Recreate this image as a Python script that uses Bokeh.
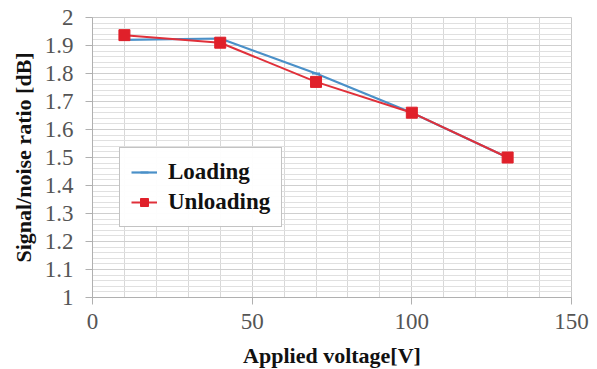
from bokeh.plotting import figure
from bokeh.models import Legend, LegendItem, FixedTicker, Range1d
from bokeh.embed import file_html
from bokeh.resources import INLINE

voltage = [10, 40, 70, 100, 130]
loading = [1.92, 1.925, 1.80, 1.66, 1.50]
unloading = [1.937, 1.91, 1.77, 1.66, 1.50]

x_ticks = [0, 50, 100, 150]
y_ticks = [1, 1.1, 1.2, 1.3, 1.4, 1.5, 1.6, 1.7, 1.8, 1.9, 2]
y_labels = {1: "1", 1.1: "1.1", 1.2: "1.2", 1.3: "1.3", 1.4: "1.4", 1.5: "1.5",
            1.6: "1.6", 1.7: "1.7", 1.8: "1.8", 1.9: "1.9", 2: "2"}

FONT = "Liberation Serif"

p = figure(width=589, height=361, output_backend="svg", toolbar_location=None,
           x_range=Range1d(0, 150), y_range=Range1d(1, 2),
           min_border_left=92, min_border_right=18, min_border_top=17, min_border_bottom=64)
p.frame_width = 479
p.frame_height = 280

p.xaxis.ticker = FixedTicker(ticks=x_ticks, minor_ticks=list(range(0, 151, 10)))
p.yaxis.ticker = FixedTicker(ticks=y_ticks, minor_ticks=[1 + i * 0.02 for i in range(51)])
p.yaxis.major_label_overrides = y_labels

for ax in (p.xaxis, p.yaxis):
    ax.major_label_text_font = FONT
    ax.major_label_text_font_size = "23px"
    ax.major_label_text_font_style = "normal"
    ax.major_label_text_color = "#555555"
    ax.axis_label_text_font = FONT
    ax.axis_label_text_font_size = "22px"
    ax.axis_label_text_font_style = "bold"
    ax.axis_label_text_color = "#111111"
    ax.axis_line_color = "#b0b0b0"
    ax.major_tick_line_color = "#b0b0b0"
    ax.major_tick_out = 7
    ax.major_tick_in = 0
    ax.minor_tick_line_color = None

p.xaxis.axis_label = "Applied voltage[V]"
p.yaxis.axis_label = "Signal/noise ratio [dB]"
p.xaxis.major_label_standoff = 9
p.xaxis.axis_label_standoff = 11
p.yaxis.major_label_standoff = 12
p.yaxis.axis_label_standoff = 6

p.xgrid.grid_line_color = "#cfcfcf"
p.ygrid.grid_line_color = "#cfcfcf"
p.xgrid.minor_grid_line_color = "#d8d8d8"
p.ygrid.minor_grid_line_color = "#e0e0e0"
p.outline_line_color = "#c8c8c8"
p.background_fill_color = "white"
p.border_fill_color = "white"

bl = p.line(voltage, loading, line_color="#4a90c8", line_width=2.2)
bm = p.scatter(voltage, loading, marker="dash", size=8, line_color="#4a90c8", line_width=2)
rl = p.line(voltage, unloading, line_color="#e0303a", line_width=2)
rm = p.scatter(voltage, unloading, marker="square", size=11, fill_color="#e0202a", line_color="#e0202a")

legend = Legend(items=[LegendItem(label="Loading", renderers=[bl, bm]),
                       LegendItem(label="Unloading", renderers=[rl, rm])],
                location=(27, 70))
legend.label_text_font = FONT
legend.label_text_font_size = "23px"
legend.label_text_font_style = "bold"
legend.label_text_color = "#111111"
legend.border_line_color = "#888888"
legend.border_line_width = 1.2
legend.padding = 11
legend.spacing = 4
legend.glyph_width = 26
legend.glyph_height = 20
legend.label_standoff = 11
legend.margin = 0
p.add_layout(legend, "center")

open("out.html", "w").write(file_html(p, INLINE))
